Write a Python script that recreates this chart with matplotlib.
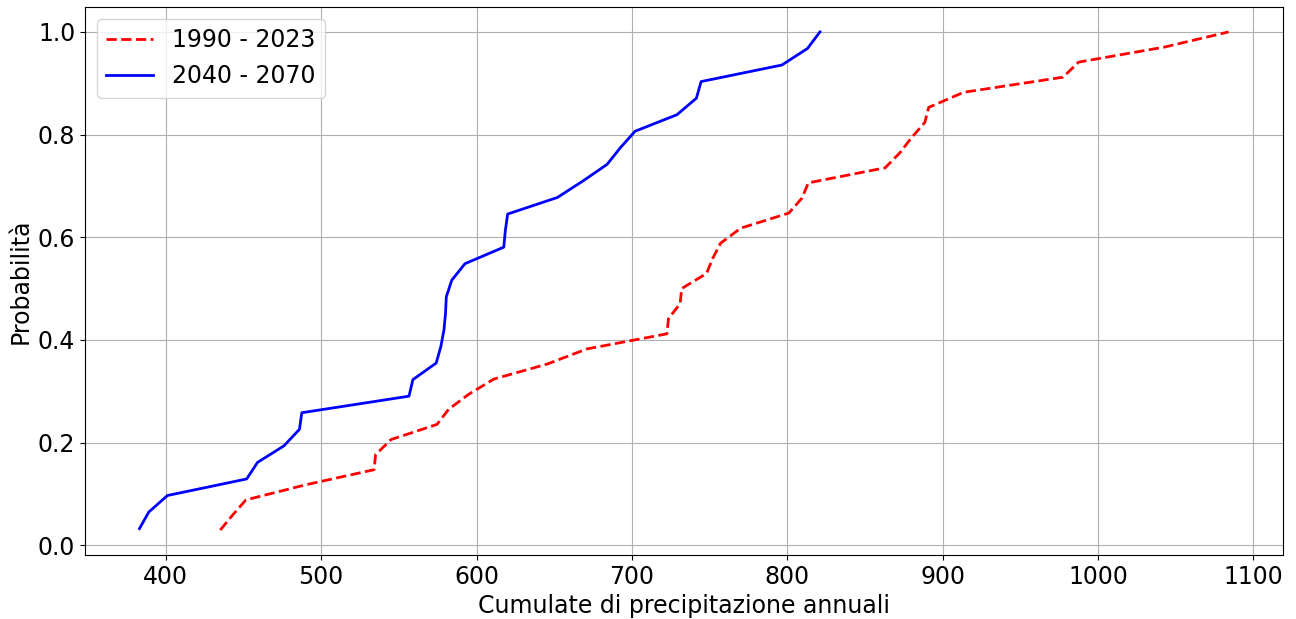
import numpy as np
import matplotlib.pyplot as plt

# annual precipitation totals, sorted
prec_1990_2023 = [435, 443, 451.5, 490, 534, 535, 545, 574.5, 582, 595,
                  611, 645.5, 671, 722.5, 723.5, 731, 732, 748, 752, 757,
                  770, 801, 809.5, 813.5, 863, 872.5, 880, 888.5, 891, 913.5,
                  977.5, 987.5, 1043, 1084]
prec_2040_2070 = [383, 389, 401, 452, 459, 476, 486, 487.5, 556.5, 559,
                  574, 577, 579, 580, 580.5, 584, 592.5, 617.5, 618.5, 620,
                  652, 668.5, 684, 692.5, 702, 729, 741.5, 744.5, 796.5, 813,
                  821]

def ecdf(values):
    x = np.sort(np.array(values))
    y = np.arange(1, len(x) + 1) / len(x)
    return x, y

fig, ax = plt.subplots(figsize=(12.96, 6.19), dpi=100)
fig.subplots_adjust(left=85/1296, right=1283/1296, top=1-7/619, bottom=1-555/619)

x1, y1 = ecdf(prec_1990_2023)
x2, y2 = ecdf(prec_2040_2070)
ax.plot(x1, y1, 'r--', lw=2, label='1990 - 2023')
ax.plot(x2, y2, 'b-', lw=2, label='2040 - 2070')

ax.set_xlabel('Cumulate di precipitazione annuali', fontsize=17)
ax.set_ylabel('Probabilità', fontsize=17)
ax.tick_params(labelsize=17)
ax.grid(True)
ax.legend(loc='upper left', fontsize=17)

fig.savefig('out.png')
